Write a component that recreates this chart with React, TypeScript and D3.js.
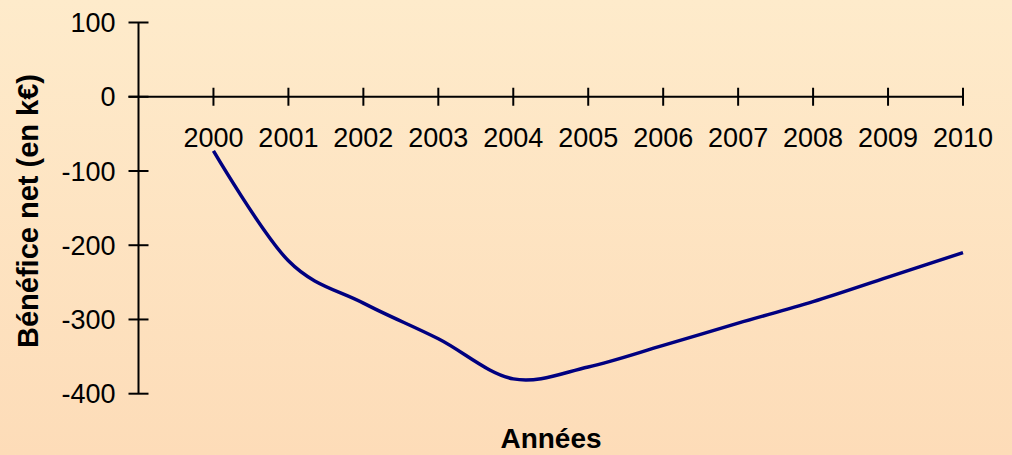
import React from 'react'
import * as d3 from 'd3'

const years = [2000, 2001, 2002, 2003, 2004, 2005, 2006, 2007, 2008, 2009, 2010]
const profit = [-73, -221, -278, -326, -380, -364, -335, -305, -276, -243, -210]
const yTicks = [100, 0, -100, -200, -300, -400]

const W = 1012
const H = 455
const FONT = 'Liberation Sans, Arial, sans-serif'

const x = d3.scaleLinear().domain([1999, 2010]).range([138.5, 963])
const y = d3.scaleLinear().domain([-400, 100]).range([393.7, 22.5])

const line = d3
  .line<number>()
  .curve(d3.curveCatmullRom.alpha(0))
  .x((d, i) => x(years[i]))
  .y(d => y(d))

export default function App() {
  const x0 = x(1999)
  return (
    <svg
      width={W}
      height={H}
      style={{ position: 'absolute', left: 0, top: 0, display: 'block' }}
      fontFamily={FONT}
    >
      <defs>
        <linearGradient id="bg" x1="0" y1="0" x2="0" y2="1">
          <stop offset="0" stopColor="#feebcb" />
          <stop offset="1" stopColor="#fddcb8" />
        </linearGradient>
      </defs>
      <rect width={W} height={H} fill="url(#bg)" />

      {/* y axis */}
      <line x1={x0} x2={x0} y1={y(100)} y2={y(-400)} stroke="#000" strokeWidth={2} />
      {yTicks.map(t => (
        <g key={t}>
          <line x1={x0 - 10} x2={x0 + 10} y1={y(t)} y2={y(t)} stroke="#000" strokeWidth={2} />
          <text x={x0 - 23} y={y(t)} dy="0.36em" textAnchor="end" fontSize={27}>
            {t}
          </text>
        </g>
      ))}

      {/* x axis along zero */}
      <line x1={x0 - 10} x2={x(2010)} y1={y(0)} y2={y(0)} stroke="#000" strokeWidth={2} />
      {years.map(yr => (
        <g key={yr}>
          <line x1={x(yr)} x2={x(yr)} y1={y(0) - 9} y2={y(0) + 9} stroke="#000" strokeWidth={2} />
          <text x={x(yr)} y={146.5} textAnchor="middle" fontSize={27}>
            {yr}
          </text>
        </g>
      ))}

      <path d={line(profit) || ''} fill="none" stroke="#000080" strokeWidth={3.5} strokeLinejoin="round" />

      <text x={551} y={448} textAnchor="middle" fontSize={28} fontWeight="bold">
        Années
      </text>
      <text
        transform={`translate(37.5,${211}) rotate(-90)`}
        textAnchor="middle"
        fontSize={29}
        fontWeight="bold"
      >
        Bénéfice net (en k€)
      </text>
    </svg>
  )
}
